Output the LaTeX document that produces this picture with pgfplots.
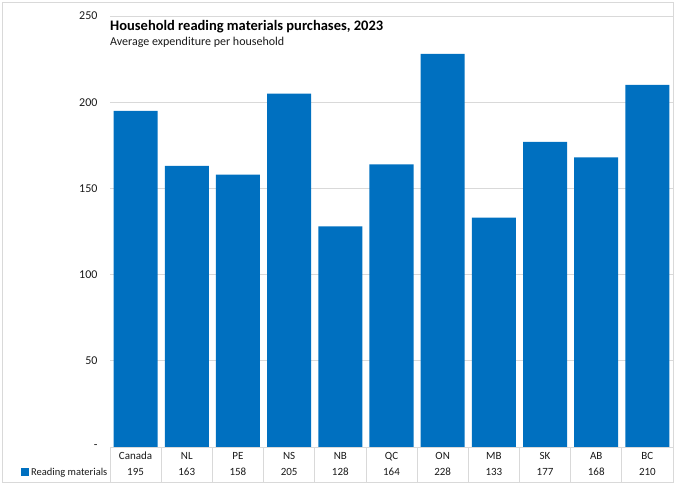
\documentclass[border=0pt]{standalone}
\usepackage{pgfplots}
\pgfplotsset{compat=1.18}
\usepackage{fontspec}
\setmainfont{Carlito}
\definecolor{barblue}{RGB}{0,112,192}
\definecolor{gridgray}{RGB}{217,217,217}
\definecolor{txt}{RGB}{25,25,25}

\begin{document}
\begin{tikzpicture}[x=1pt,y=1pt]
    \useasboundingbox (0,0) rectangle (677,486);
    \draw[gridgray, line width=0.8pt] (2.5,3.5) rectangle (673.5,483.5);

    \begin{axis}[
        at={(110pt,39pt)}, anchor=south west,
        scale only axis,
        width=563pt, height=431pt,
        ymin=0, ymax=250,
        xmin=-0.5, xmax=10.5,
        ybar, bar width=0.86,
        axis line style={draw=none},
        ytick={0,50,100,150,200,250},
        yticklabels={-,50,100,150,200,250},
        ymajorgrids,
        grid style={gridgray, line width=0.8pt},
        major tick length=0pt,
        tick pos=left,
        yticklabel style={font=\fontsize{12}{14}\selectfont, text=txt, xshift=-9pt},
        xtick=data,
        xticklabels={{Canada\\195},{NL\\163},{PE\\158},{NS\\205},{NB\\128},{QC\\164},{ON\\228},{MB\\133},{SK\\177},{AB\\168},{BC\\210}},
        xticklabel style={align=center, font=\fontsize{11}{16}\selectfont, text=txt, yshift=-1.5pt},
        extra x ticks={-0.5,0.5,...,10.5},
        extra x tick labels={},
        extra x tick style={major tick length=35pt, tick align=outside, tick style={draw=gridgray, line width=0.8pt}},
        clip=false,
    ]
    \addplot[fill=barblue, draw=none] coordinates {
        (0,195) (1,163) (2,158) (3,205) (4,128) (5,164)
        (6,228) (7,133) (8,177) (9,168) (10,210)
    };
    \end{axis}

    \node[anchor=base west, inner sep=0pt, font=\bfseries\fontsize{14.5}{16}\selectfont, text=black] at (110,455) {Household reading materials purchases, 2023};
    \node[anchor=base west, inner sep=0pt, font=\fontsize{12}{13}\selectfont, text=txt] at (110,440) {Average expenditure per household};

    \fill[barblue] (21,10) rectangle (29,18);
    \node[anchor=base west, inner sep=0pt, font=\fontsize{10.5}{12}\selectfont, text=txt] at (31,10) {Reading materials};
\end{tikzpicture}
\end{document}
